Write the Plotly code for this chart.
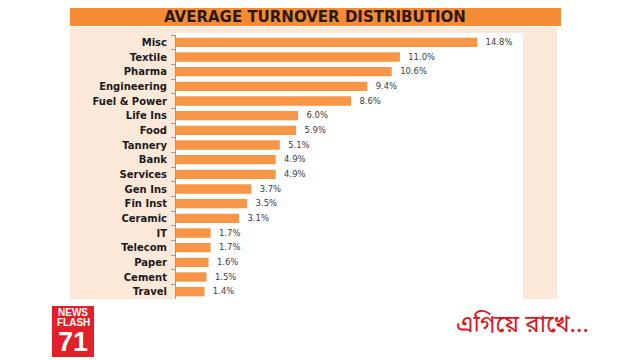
import plotly.graph_objects as go

categories = ["Misc", "Textile", "Pharma", "Engineering", "Fuel & Power", "Life Ins", "Food",
              "Tannery", "Bank", "Services", "Gen Ins", "Fin Inst", "Ceramic", "IT", "Telecom",
              "Paper", "Cement", "Travel"]
values = [14.8, 11.0, 10.6, 9.4, 8.6, 6.0, 5.9, 5.1, 4.9, 4.9, 3.7, 3.5, 3.1, 1.7, 1.7, 1.6, 1.5, 1.4]
title_text = "AVERAGE TURNOVER DISTRIBUTION"
tagline = "এগিয়ে রাখে..."

W, H = 640, 360
OX, OY = 8, 8  # page body margin offset
# target page-pixel plot box: x 176..523, y 35..299
L = 176 - OX
R = W - (523 - OX)
T = 35 - OY
B = H - (299 - OY)
PW, PH = W - L - R, H - T - B

def px(x):
    return (x - OX - L) / PW

def py(y):
    return (H - B - (y - OY)) / PH

BAR = "#F79646"
BANNER = "#F68B35"
PEACH = "#FDE9D9"

fig = go.Figure(go.Bar(
    x=values, y=categories, orientation="h",
    marker=dict(color=BAR, line=dict(width=0)),
    width=0.64,
    texttemplate="  %{x:.1f}%", textposition="outside", cliponaxis=False,
    textfont=dict(family="DejaVu Sans", size=9, color="#404040"),
    hoverinfo="skip",
))

shapes = [
    dict(type="rect", xref="paper", yref="paper", x0=px(70), x1=px(557), y0=py(299), y1=py(27),
         fillcolor=PEACH, line=dict(width=0), layer="below"),
    dict(type="rect", xref="paper", yref="paper", x0=px(175), x1=px(523), y0=py(299), y1=py(33),
         fillcolor="white", line=dict(width=0), layer="below"),
    dict(type="rect", xref="paper", yref="paper", x0=px(70), x1=px(561), y0=py(26), y1=py(8),
         fillcolor=BANNER, line=dict(width=0), layer="below"),
    dict(type="rect", xref="paper", yref="paper", x0=px(52), x1=px(94), y0=py(357), y1=py(306),
         fillcolor="#E3202A", line=dict(width=0), layer="above"),
]

annotations = [
    dict(text=f"<b>{title_text}</b>", xref="paper", yref="paper", x=px(315), y=py(17),
         xanchor="center", yanchor="middle", showarrow=False,
         font=dict(family="DejaVu Sans", size=15, color="#2B1A12")),
    dict(text="<b>NEWS</b>", xref="paper", yref="paper", x=px(73), y=py(312),
         xanchor="center", yanchor="middle", showarrow=False,
         font=dict(family="Liberation Sans Narrow, Liberation Sans", size=10, color="white")),
    dict(text="<b>FLASH</b>", xref="paper", yref="paper", x=px(73), y=py(322),
         xanchor="center", yanchor="middle", showarrow=False,
         font=dict(family="Liberation Sans Narrow, Liberation Sans", size=10, color="white")),
    dict(text="<b>71</b>", xref="paper", yref="paper", x=px(73), y=py(342),
         xanchor="center", yanchor="middle", showarrow=False,
         font=dict(family="Liberation Sans", size=27, color="white")),
    dict(text=tagline, xref="paper", yref="paper", x=px(522), y=py(326),
         xanchor="center", yanchor="middle", showarrow=False,
         font=dict(family="Noto Sans Bengali, Noto Serif Bengali, Noto Sans", size=24, color="#E0141E")),
]

fig.update_layout(
    width=W, height=H,
    margin=dict(l=L, r=R, t=T, b=B, pad=0),
    paper_bgcolor="white", plot_bgcolor="rgba(0,0,0,0)",
    showlegend=False, bargap=0.36,
    shapes=shapes, annotations=annotations,
    xaxis=dict(range=[0, 17.05], visible=False, fixedrange=True),
    yaxis=dict(categoryorder="array", categoryarray=categories, autorange="reversed",
               showline=True, linecolor="#9A9A9A", linewidth=1,
               ticks="outside", ticklen=4, tickcolor="#9A9A9A", tickson="boundaries",
               showgrid=False, ticklabelstandoff=6, automargin=False,
               tickfont=dict(family="DejaVu Sans", size=10, color="#1A1A1A", weight="bold")),
)

fig.write_html("out.html")
